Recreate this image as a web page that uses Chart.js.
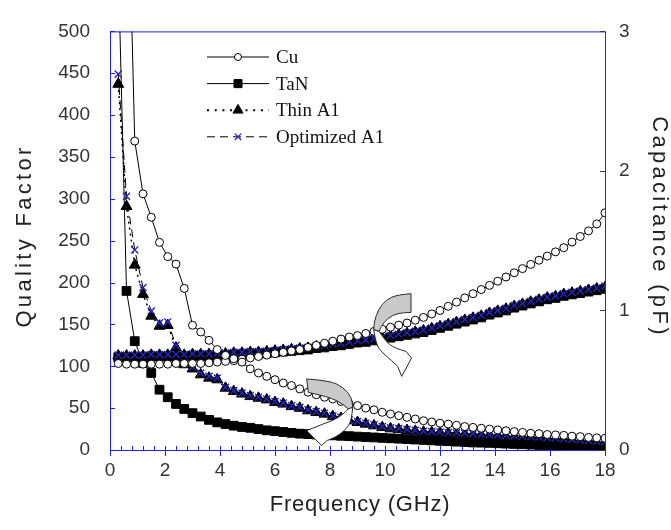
<!DOCTYPE html>
<html>
<head>
<meta charset="utf-8">
<script src="https://cdn.jsdelivr.net/npm/chart.js@4.4.0/dist/chart.umd.min.js"></script>
<style>
    html, body { margin: 0; padding: 0; background: #fff; }
    #caixa { width: 671px; height: 530px; }
</style>
</head>
<body>
<div id="caixa"><canvas id="graficoQ"></canvas></div>
<script>
// frequency sweep (GHz)
const frequency = [
    0.3, 0.6, 0.9, 1.2, 1.5, 1.8, 2.1, 2.4, 2.7, 3.0,
    3.3, 3.6, 3.9, 4.2, 4.5, 4.8, 5.1, 5.4, 5.7, 6.0,
    6.3, 6.6, 6.9, 7.2, 7.5, 7.8, 8.1, 8.4, 8.7, 9.0,
    9.3, 9.6, 9.9, 10.2, 10.5, 10.8, 11.1, 11.4, 11.7, 12.0,
    12.3, 12.6, 12.9, 13.2, 13.5, 13.8, 14.1, 14.4, 14.7, 15.0,
    15.3, 15.6, 15.9, 16.2, 16.5, 16.8, 17.1, 17.4, 17.7, 18.0
];

const materials = ['Cu', 'TaN', 'Thin A1', 'Optimized A1'];

// quality factor (left axis)
const qCu = [
    1500, 760, 369, 306, 278, 248, 231, 222, 193, 149,
    141, 131, 120, 113, 109, 105, 97, 92, 88, 84,
    80, 77, 73, 69, 66, 63, 61, 58, 55, 53,
    50, 48, 45, 43, 41, 39, 37, 35, 33.5, 32,
    31, 29.5, 28, 27, 26, 25, 24, 23, 22, 21,
    20, 19.5, 18.5, 18, 17.5, 16.5, 16, 15, 14.5, 14
];
const qTaN = [
    580, 190, 130, 104, 92, 72, 63, 55, 49, 44,
    40, 36, 33, 31, 29, 27.5, 26.5, 25, 23.5, 22.5,
    21.5, 20.5, 19.5, 19, 18.5, 18, 17.5, 17, 16.5, 16,
    15.5, 15, 14.5, 14, 13.5, 13, 12.5, 12, 11.5, 11,
    10.5, 10, 9.5, 9, 8.8, 8.5, 8, 7.6, 7.2, 6.8,
    6.4, 6, 5.6, 5.2, 4.8, 4.5, 4.2, 3.9, 3.6, 3.3
];
const qThin = [
    437, 291, 221, 186, 160, 148, 149, 122, 102, 97,
    90, 86, 84, 74, 70, 67, 64, 62, 60, 57,
    55, 52, 50, 47, 45, 43, 40, 38, 35, 33,
    31, 29, 27, 25.5, 24.5, 23.5, 22.5, 21.5, 21, 20.5,
    20, 19.5, 19, 18.5, 18, 17.5, 17, 16.5, 16, 15.5,
    15, 14.5, 14, 13, 12.5, 11.8, 11, 10.3, 9.6, 9
];
const qOpt = [
    449, 303, 239, 194, 166, 152, 153, 125, 104, 99,
    92, 88, 86, 75, 71, 68, 65, 63, 61, 58,
    56, 53, 51, 48, 46, 44, 41, 39, 36, 34,
    32, 30, 28, 26.5, 25.5, 24.5, 23.5, 22.5, 22, 21.5,
    21, 20.5, 20, 19.5, 19, 18.5, 18, 17.5, 17, 16.5,
    16, 15.5, 15, 14, 13.5, 12.8, 12, 11.3, 10.6, 10
];

// capacitance in pF (right axis)
const cCu = [
    0.62, 0.615, 0.615, 0.615, 0.615, 0.615, 0.615, 0.62, 0.62, 0.62,
    0.62, 0.625, 0.63, 0.635, 0.64, 0.65, 0.66, 0.67, 0.68, 0.69,
    0.70, 0.71, 0.72, 0.735, 0.75, 0.765, 0.78, 0.795, 0.81, 0.82,
    0.835, 0.85, 0.865, 0.88, 0.895, 0.91, 0.93, 0.95, 0.975, 1.0,
    1.03, 1.06, 1.09, 1.12, 1.15, 1.18, 1.21, 1.24, 1.27, 1.30,
    1.33, 1.36, 1.39, 1.42, 1.45, 1.49, 1.53, 1.57, 1.62, 1.70
];
const cTaN = [
    0.665, 0.665, 0.665, 0.665, 0.67, 0.67, 0.67, 0.67, 0.67, 0.675,
    0.675, 0.675, 0.68, 0.68, 0.685, 0.685, 0.69, 0.69, 0.695, 0.70,
    0.705, 0.71, 0.715, 0.72, 0.73, 0.735, 0.745, 0.75, 0.76, 0.77,
    0.775, 0.785, 0.795, 0.805, 0.815, 0.825, 0.835, 0.845, 0.86, 0.875,
    0.89, 0.905, 0.92, 0.935, 0.95, 0.97, 0.985, 1.0, 1.02, 1.035,
    1.05, 1.065, 1.08, 1.09, 1.105, 1.115, 1.125, 1.135, 1.145, 1.155
];
const cThin = [
    0.675, 0.675, 0.675, 0.675, 0.68, 0.68, 0.68, 0.68, 0.68, 0.685,
    0.685, 0.685, 0.69, 0.69, 0.695, 0.695, 0.70, 0.70, 0.705, 0.71,
    0.715, 0.72, 0.725, 0.73, 0.74, 0.745, 0.755, 0.76, 0.77, 0.78,
    0.785, 0.795, 0.805, 0.815, 0.825, 0.835, 0.845, 0.855, 0.87, 0.885,
    0.90, 0.915, 0.93, 0.945, 0.96, 0.98, 0.995, 1.01, 1.03, 1.045,
    1.06, 1.075, 1.09, 1.10, 1.115, 1.125, 1.135, 1.145, 1.155, 1.165
];
const cOpt = [
    0.68, 0.68, 0.68, 0.68, 0.685, 0.685, 0.685, 0.685, 0.685, 0.69,
    0.69, 0.69, 0.695, 0.695, 0.70, 0.70, 0.705, 0.705, 0.71, 0.715,
    0.72, 0.725, 0.73, 0.735, 0.745, 0.75, 0.76, 0.765, 0.775, 0.785,
    0.79, 0.80, 0.81, 0.82, 0.83, 0.84, 0.85, 0.86, 0.875, 0.89,
    0.905, 0.92, 0.935, 0.95, 0.965, 0.985, 1.0, 1.015, 1.035, 1.05,
    1.065, 1.08, 1.095, 1.105, 1.12, 1.13, 1.14, 1.15, 1.16, 1.175
];

const freqTicks = [0, 2, 4, 6, 8, 10, 12, 14, 16, 18];
const qTicks = [0, 50, 100, 150, 200, 250, 300, 350, 400, 450, 500];
const capTicks = [0, 1, 2, 3];

const azul = '#1e1ee6';
const cinza = '#3a3a3a';

// marker / line look for each material
const estilos = [
    { pointStyle: 'circle', radius: 4, fill: '#fff', stroke: '#000', dash: [], width: 1, order: 1 },
    { pointStyle: 'rect', radius: 6.2, fill: '#000', stroke: '#000', dash: [], width: 1, order: 4 },
    { pointStyle: 'triangle', radius: 6.3, fill: '#000', stroke: '#000', dash: [2, 4], width: 1.5, order: 3 },
    { pointStyle: 'crossRot', radius: 5, fill: '#2424c8', stroke: '#2424c8', dash: [8, 5], width: 1, order: 2 }
];

function pontos(ys) {
    return frequency.map((f, i) => ({ x: f, y: ys[i] }));
}

function montarDataset(nome, valores, eixo, estilo) {
    return {
        label: nome,
        data: pontos(valores),
        yAxisID: eixo,
        borderColor: '#000',
        borderWidth: estilo.width,
        borderDash: estilo.dash,
        pointStyle: estilo.pointStyle,
        pointRadius: estilo.radius,
        pointBackgroundColor: estilo.fill,
        pointBorderColor: estilo.stroke,
        pointBorderWidth: estilo.pointStyle === 'crossRot' ? 1.4 : 1,
        tension: 0,
        order: estilo.order
    };
}

const qualidade = [qCu, qTaN, qThin, qOpt];
const capacitancia = [cCu, cTaN, cThin, cOpt];

const datasets = [];
materials.forEach((nome, i) => {
    datasets.push(montarDataset(nome, qualidade[i], 'yQ', estilos[i]));
    datasets.push(montarDataset(nome, capacitancia[i], 'yC', estilos[i]));
});

// axis lines and tick marks drawn by hand (inward ticks, blue frame)
const moldura = {
    id: 'moldura',
    beforeDatasetsDraw(chart) {
        const { ctx, chartArea: a, scales } = chart;
        ctx.save();
        ctx.lineWidth = 1;
        ctx.strokeStyle = azul;
        ctx.beginPath();
        ctx.moveTo(a.left + 0.5, a.bottom + 0.5);
        ctx.lineTo(a.left + 0.5, a.top + 0.5);
        ctx.lineTo(a.right, a.top + 0.5);
        ctx.moveTo(a.left, a.bottom + 0.5);
        ctx.lineTo(a.right, a.bottom + 0.5);
        qTicks.forEach(v => {
            const y = Math.round(scales.yQ.getPixelForValue(v)) + 0.5;
            ctx.moveTo(a.left, y);
            ctx.lineTo(a.left + 5, y);
        });
        freqTicks.forEach(v => {
            const x = Math.round(scales.x.getPixelForValue(v)) + 0.5;
            ctx.moveTo(x, a.bottom);
            ctx.lineTo(x, a.bottom + 6);
        });
        for (let f = 0.4; f < 18; f += 0.4) {
            const x = Math.round(scales.x.getPixelForValue(f)) + 0.5;
            ctx.moveTo(x, a.bottom);
            ctx.lineTo(x, a.bottom - 4);
        }
        ctx.stroke();

        ctx.strokeStyle = cinza;
        ctx.beginPath();
        ctx.moveTo(a.right + 0.5, a.top);
        ctx.lineTo(a.right + 0.5, a.bottom + 1);
        capTicks.forEach(v => {
            const y = Math.round(scales.yC.getPixelForValue(v)) + 0.5;
            ctx.moveTo(a.right, y);
            ctx.lineTo(a.right - 5, y);
        });
        ctx.stroke();
        ctx.restore();
    }
};

// curved gray/white arrows that point each family of curves to its axis
const setas = [
    {
        eixo: 'yC', x: 10.4, y: 0.85,
        fundo: [[15, -37.7], [1.7, -36.7], [-10, -31.7], [-17.7, -21.7], [-21.7, -10], [-22.3, -1.7]],
        fundoInterno: [[-17, 0], [-15, -5], [-8.3, -13.3], [1.7, -18.3], [15, -19]],
        frente: [[-22.3, -1.7], [-20, 13.3], [-13.3, 21.7], [-4, 29.5], [1.7, 35]],
        ponta: [[1.7, 35], [5.7, 45], [15.5, 26.7], [10, 20]],
        frenteInterna: [[10, 20], [-1.7, 16.7], [-10, 10], [-15, 2.5], [-17, 0]]
    },
    {
        eixo: 'yQ', x: 8.0, y: 47,
        fundo: [[-23.3, -31.7], [0, -30], [13.3, -23.3], [21.7, -13.3], [22.7, -3.3]],
        fundoInterno: [[18.3, -1.7], [13.3, -6.7], [0, -13.3], [-21.7, -18.3]],
        frente: [[22.7, -3.3], [21.7, 10], [15, 20], [5, 26.7], [-3.3, 30]],
        ponta: [[-3.3, 30], [-8.3, 35], [-23.3, 20], [-6.7, 13.3]],
        frenteInterna: [[-6.7, 13.3], [3.3, 10], [13.3, 3.3], [18.3, -1.7]]
    }
];

function curva(ctx, cx, cy, pts, inicio) {
    const p = pts.map(q => [cx + q[0], cy + q[1]]);
    if (inicio) ctx.moveTo(p[0][0], p[0][1]); else ctx.lineTo(p[0][0], p[0][1]);
    for (let i = 1; i < p.length - 1; i++) {
        const mx = (p[i][0] + p[i + 1][0]) / 2;
        const my = (p[i][1] + p[i + 1][1]) / 2;
        ctx.quadraticCurveTo(p[i][0], p[i][1], mx, my);
    }
    ctx.lineTo(p[p.length - 1][0], p[p.length - 1][1]);
}

function reta(ctx, cx, cy, pts) {
    pts.forEach(q => ctx.lineTo(cx + q[0], cy + q[1]));
}

const desenhoSetas = {
    id: 'desenhoSetas',
    afterDatasetsDraw(chart) {
        const { ctx, scales } = chart;
        ctx.save();
        ctx.lineWidth = 1;
        ctx.strokeStyle = '#2a2a2a';
        setas.forEach(s => {
            const cx = scales.x.getPixelForValue(s.x);
            const cy = scales[s.eixo].getPixelForValue(s.y);

            ctx.beginPath();
            curva(ctx, cx, cy, s.fundo, true);
            curva(ctx, cx, cy, s.fundoInterno, false);
            ctx.closePath();
            ctx.fillStyle = '#c9c9c9';
            ctx.fill();
            ctx.stroke();

            ctx.beginPath();
            curva(ctx, cx, cy, s.frente, true);
            reta(ctx, cx, cy, s.ponta);
            curva(ctx, cx, cy, s.frenteInterna, false);
            ctx.closePath();
            ctx.fillStyle = '#fff';
            ctx.fill();
            ctx.stroke();
        });
        ctx.restore();
    }
};

// legend inside the plot: line sample with the marker in its middle
const legenda = {
    id: 'legenda',
    afterDraw(chart) {
        const { ctx } = chart;
        const helpers = Chart.helpers;
        ctx.save();
        materials.forEach((nome, i) => {
            const e = estilos[i];
            const y = 57 + i * 26.6;
            ctx.strokeStyle = '#000';
            ctx.lineWidth = i === 2 ? 2 : 1;
            ctx.setLineDash(i === 2 ? [2, 5.7] : e.dash);
            ctx.beginPath();
            ctx.moveTo(207, y);
            ctx.lineTo(269, y);
            ctx.stroke();
            ctx.setLineDash([]);

            ctx.fillStyle = e.fill;
            ctx.strokeStyle = e.stroke;
            ctx.lineWidth = e.pointStyle === 'crossRot' ? 1.3 : 1;
            helpers.drawPoint(ctx, { pointStyle: e.pointStyle, radius: e.radius - 0.5, rotation: 0, borderWidth: ctx.lineWidth }, 238, y);

            ctx.fillStyle = '#111';
            ctx.font = '19px "Liberation Serif", "Times New Roman", serif';
            ctx.textAlign = 'left';
            ctx.textBaseline = 'middle';
            ctx.fillText(nome, 276, y + 1);
        });
        ctx.restore();
    }
};

// axis titles with the wide letter spacing of the original figure
function escreverTitulo(ctx, texto, x, y, angulo, espaco) {
    ctx.save();
    ctx.translate(x, y);
    ctx.rotate(angulo);
    if ('letterSpacing' in ctx) ctx.letterSpacing = espaco + 'px';
    ctx.font = '22px "Liberation Sans", Arial, sans-serif';
    ctx.fillStyle = '#222';
    ctx.textAlign = 'center';
    ctx.textBaseline = 'middle';
    ctx.fillText(texto, 0, 0);
    ctx.restore();
}

const titulos = {
    id: 'titulos',
    afterDraw(chart) {
        const ctx = chart.ctx;
        escreverTitulo(ctx, 'Quality Factor', 25, 236, -Math.PI / 2, 3.3);
        escreverTitulo(ctx, 'Capacitance (pF)', 659, 227, Math.PI / 2, 3.3);
        escreverTitulo(ctx, 'Frequency (GHz)', 360, 505, 0, 0.8);
    }
};

const fonteEixo = { family: '"Liberation Sans", Arial, sans-serif', size: 19 };

window.meuGrafico = new Chart(document.getElementById('graficoQ').getContext('2d'), {
    type: 'line',
    data: { datasets: datasets },
    options: {
        responsive: true,
        maintainAspectRatio: false,
        animation: false,
        devicePixelRatio: 1,
        layout: { padding: { top: 24, left: 0, right: 0, bottom: 0 } },
        scales: {
            x: {
                type: 'linear',
                min: 0,
                max: 18,
                afterFit: s => { s.height = 80; },
                afterBuildTicks: s => { s.ticks = freqTicks.map(v => ({ value: v })); },
                grid: { display: false, drawTicks: false },
                border: { display: false },
                ticks: { color: '#333', font: fonteEixo, padding: 9, maxRotation: 0, autoSkip: false }
            },
            yQ: {
                position: 'left',
                min: 0,
                max: 500,
                afterFit: s => { s.width = 110; },
                afterBuildTicks: s => { s.ticks = qTicks.map(v => ({ value: v })); },
                grid: { display: false, drawTicks: false },
                border: { display: false },
                ticks: { color: '#333', font: fonteEixo, padding: 20, autoSkip: false }
            },
            yC: {
                position: 'right',
                min: 0,
                max: 3,
                afterFit: s => { s.width = 66; },
                afterBuildTicks: s => { s.ticks = capTicks.map(v => ({ value: v })); },
                grid: { display: false, drawTicks: false },
                border: { display: false },
                ticks: { color: '#333', font: fonteEixo, padding: 14, autoSkip: false }
            }
        },
        plugins: {
            legend: { display: false },
            tooltip: { enabled: false },
            title: { display: false }
        }
    },
    plugins: [moldura, desenhoSetas, legenda, titulos]
});
</script>
</body>
</html>
